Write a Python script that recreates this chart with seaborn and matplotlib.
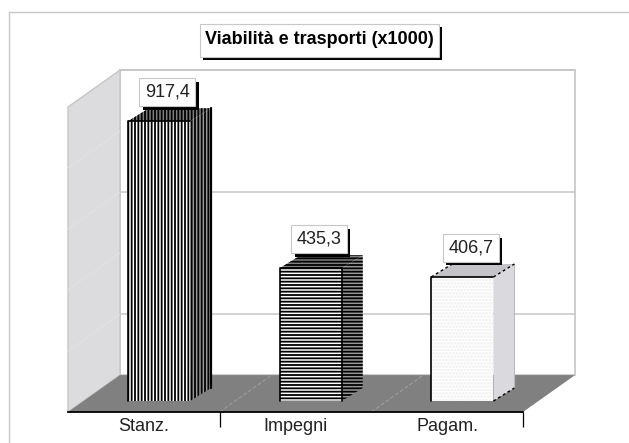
from matplotlib import pyplot as plt
from matplotlib.patches import Polygon, Rectangle
from matplotlib.patheffects import withSimplePatchShadow
import seaborn as sns

categories = ["Stanz.", "Impegni", "Pagam."]
values = [917.4, 435.3, 406.7]
value_labels = ["917,4", "435,3", "406,7"]
title = "Viabilità e trasporti (x1000)"
wall_grid = [200, 600, 1000]
wall_faint = [200, 400, 600, 800]

W, H = 629, 443
PX_X = 151.67  # pixels per category
PX_Y = 0.305  # pixels per value unit

FRONT_Y = -36
BACK_X = 52 / PX_X
BACK_Y = 121
BAR_DX = 21 / PX_X
BAR_DY = 13 / PX_Y
X0, X1 = -0.6, 2.4

front_hatch = ["|||||", "-----", "....."]
front_edge = ["black", "black", "#eeeeee"]
side_color = ["#999999", "#999999", "#d9d9de"]
side_hatch = ["|||||", "-----", ""]
top_color = ["#808080", "#808080", "#c4c4c8"]
top_hatch = ["|||||", "-----", ""]

sns.set_theme(style="white")
plt.rcParams["font.family"] = "Liberation Sans"
plt.rcParams["hatch.linewidth"] = 1.3

fig = plt.figure(figsize=(W / 100, H / 100), dpi=100)
ax = fig.add_axes([68 / W, (H - 412) / H, 455 / W, 341 / H])
ax.patch.set_alpha(0)

sns.barplot(x=categories, y=values, width=0.41, color="white", saturation=1, ax=ax)
bars = list(ax.patches)

# walls and floor
back = dict(clip_on=False, zorder=0.5)
ax.add_patch(Polygon([(X0 + BACK_X, BACK_Y + FRONT_Y), (X1 + BACK_X, BACK_Y + FRONT_Y),
                      (X1 + BACK_X, BACK_Y + FRONT_Y + 1000), (X0 + BACK_X, BACK_Y + FRONT_Y + 1000)],
                     fc="white", ec="#c6c6c6", lw=1.2, **back))
ax.add_patch(Polygon([(X0, FRONT_Y), (X0 + BACK_X, FRONT_Y + BACK_Y),
                      (X0 + BACK_X, FRONT_Y + BACK_Y + 1000), (X0, FRONT_Y + 1000)],
                     fc="#dcdcde", ec="#c6c6c6", lw=1, **back))
ax.add_patch(Polygon([(X0, FRONT_Y), (X1, FRONT_Y), (X1 + BACK_X, FRONT_Y + BACK_Y),
                      (X0 + BACK_X, FRONT_Y + BACK_Y)], fc="#808080", ec="none", **back))

for v in wall_grid:
    ax.plot([X0 + BACK_X, X1 + BACK_X], [v + FRONT_Y + BACK_Y] * 2, color="#c6c6c6", lw=1.1,
            clip_on=False, zorder=0.7)
for v in wall_faint:
    ax.plot([X0, X0 + BACK_X], [v + FRONT_Y, v + FRONT_Y + BACK_Y], color="#e3e3e5", lw=0.6,
            clip_on=False, zorder=0.7)
for x in [0.4, 1.4]:
    ax.plot([x, x + BACK_X], [FRONT_Y, FRONT_Y + BACK_Y], color="#a0a0a0", lw=0.7, ls=(0, (4, 2)),
            clip_on=False, zorder=0.7)

# bars with their depth faces
for i, bar in enumerate(bars):
    x0, x1 = bar.get_x(), bar.get_x() + bar.get_width()
    top = bar.get_height()
    ax.add_patch(Polygon([(x1, 0), (x1 + BAR_DX, BAR_DY), (x1 + BAR_DX, top + BAR_DY), (x1, top)],
                         fc=side_color[i], ec="black", hatch=side_hatch[i], lw=0,
                         clip_on=False, zorder=2))
    ax.add_patch(Polygon([(x0, top), (x0 + BAR_DX, top + BAR_DY), (x1 + BAR_DX, top + BAR_DY), (x1, top)],
                         fc=top_color[i], ec="black", hatch=top_hatch[i], lw=0, clip_on=False, zorder=2))
    bar.set_zorder(3)
    bar.set_facecolor("white")
    bar.set_edgecolor(front_edge[i])
    bar.set_linewidth(0)
    bar.set_hatch(front_hatch[i])
    ax.plot([x0, x0, x1], [0, top, top], color="black", lw=1.2, zorder=4, clip_on=False)
    if i == 0:
        ax.plot([x1 + BAR_DX] * 2, [BAR_DY, top + BAR_DY], color="black", lw=1.6, zorder=4, clip_on=False)
    elif i == 1:
        ax.plot([x1, x1], [0, top], color="black", lw=1.2, zorder=4, clip_on=False)
    else:
        ax.plot([x1 + BAR_DX] * 2, [BAR_DY, top + BAR_DY], color="#bbbbbb", lw=0.8, zorder=4, clip_on=False)
        ax.plot([x1, x1 + BAR_DX], [top, top + BAR_DY], color="black", lw=1, ls=(0, (2, 2)), zorder=4, clip_on=False)
        ax.plot([x0, x0 + BAR_DX], [top, top + BAR_DY], color="black", lw=1, ls=(0, (2, 2)), zorder=4, clip_on=False)
        ax.plot([x1, x1 + BAR_DX], [0, BAR_DY], color="black", lw=1, ls=(0, (2, 2)), zorder=4, clip_on=False)

    t = ax.annotate(value_labels[i], (bar.get_x() + bar.get_width() / 2, top),
                    xytext=(6, 21), textcoords="offset points", ha="center", va="center",
                    fontsize=13, color="#222222", zorder=10, annotation_clip=False,
                    bbox=dict(boxstyle="square,pad=0.3", fc="white", ec="#c8c8c8", lw=0.8))
    t.get_bbox_patch().set_path_effects(
        [withSimplePatchShadow(offset=(2.6, -2.6), shadow_rgbFace="black", alpha=1)])

ax.set_xlim(X0, X1)
ax.set_ylim(FRONT_Y, FRONT_Y + 341 / PX_Y)
ax.set_xlabel("")
ax.set_ylabel("")
ax.set_yticks([])
ax.set_xticks([-0.1, 0.9, 1.9], categories, fontsize=13, color="#222222")
ax.set_xticks([0.4, 2.4], minor=True)
ax.tick_params(axis="x", which="major", length=0, pad=4, bottom=False)
ax.tick_params(axis="x", which="minor", length=11, width=0.9, color="black", bottom=True)
sns.despine(ax=ax, left=True, top=True, right=True)
ax.spines["bottom"].set_color("black")
ax.spines["bottom"].set_linewidth(1.3)
ax.spines["bottom"].set_zorder(5)

# image frame
fig.add_artist(plt.Line2D([9 / W, 9 / W], [0, 1 - 12 / H], color="#c8c8c8", lw=1))
fig.add_artist(plt.Line2D([9 / W, 1], [1 - 12 / H, 1 - 12 / H], color="#c8c8c8", lw=1))

# title box
box = Rectangle((200 / W, 1 - 57 / H), 239 / W, 33 / H, transform=fig.transFigure,
                fc="white", ec="#c8c8c8", lw=0.8)
box.set_path_effects([withSimplePatchShadow(offset=(2.2, -2.4), shadow_rgbFace="black", alpha=1)])
fig.add_artist(box)
fig.text(319.5 / W, 1 - 40 / H, title, ha="center", va="center", fontsize=13, fontweight="bold", color="black")

fig.savefig("out.png", dpi=100)
